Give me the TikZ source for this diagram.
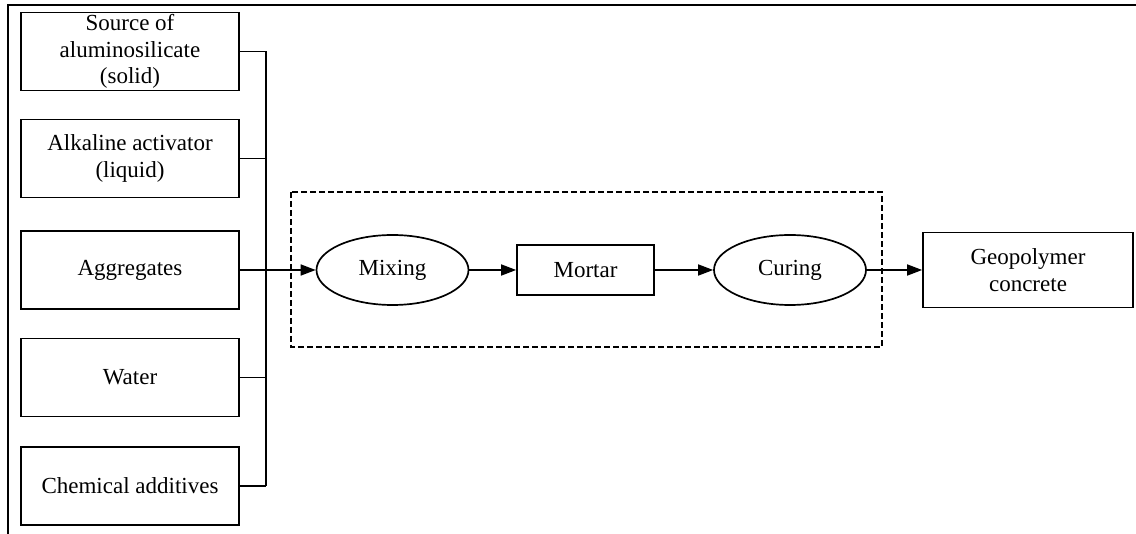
\documentclass[tikz,border=0pt]{standalone}
\usepackage{fontspec}
\setmainfont{Liberation Serif}
\usetikzlibrary{arrows.meta,shapes.geometric}
\tikzset{
    inbox/.style={draw, minimum width=218pt, minimum height=78pt, align=center, inner sep=0pt},
    stage/.style={draw, ellipse, minimum width=152pt, minimum height=70pt, inner sep=0pt},
    flow/.style={-{Triangle[length=15pt,width=11pt]}},
}
\begin{document}
\begin{tikzpicture}[x=1pt, y=-1pt, line width=1.7pt, font=\fontsize{23}{26.5}\selectfont]
    \useasboundingbox (0,0) rectangle (1136,534);
    \draw (8,534) -- (8,5) -- (1136,5);
    \foreach \n/\y/\txt in {src/51.5/{Source of\\aluminosilicate\\(solid)},alk/158.5/{Alkaline activator\\(liquid)},agg/270/Aggregates,wat/377.5/Water,chem/486/Chemical additives}{
      \node[inbox] (\n) at (130,\y) {\txt};
    }
    \coordinate (bustop) at (266,51.5);
    \coordinate (busbot) at (266,486);
    \draw (bustop) -- (busbot);
    \foreach \n in {src,alk,wat,chem}{
      \draw (\n.east) -- (\n.east -| bustop);
    }

    \draw[dash pattern=on 6pt off 3pt, line width=1.4pt] (291,192) rectangle (882,347);
    \node[stage] (mix) at (392.5,270) {Mixing};
    \node[draw, minimum width=137pt, minimum height=50pt] (mortar) at (585.5,270) {Mortar};
    \node[stage] (cure) at (790,270) {Curing};
    \node[draw, minimum width=210pt, minimum height=75pt, align=center, inner sep=0pt] (geo) at (1028,270) {Geopolymer\\concrete};

    \draw[flow] (agg.east) -- (mix.west);
    \draw[flow] (mix) -- (mortar);
    \draw[flow] (mortar) -- (cure);
    \draw[flow] (cure) -- (geo);
  \end{tikzpicture}
\end{document}
